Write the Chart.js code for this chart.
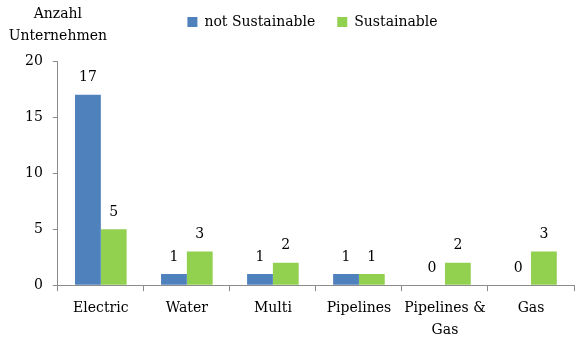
<!DOCTYPE html>
<html>
<head>
<meta charset="utf-8">
<script src="https://cdn.jsdelivr.net/npm/chart.js@4/dist/chart.umd.min.js"></script>
<style>
  html, body { margin: 0; padding: 0; background: #fff; }
  #wrap { width: 580px; height: 337px; }
</style>
</head>
<body>
<div id="wrap"><canvas id="bar-canvas" width="580" height="337"></canvas></div>
<script>
var categories = ['Electric', 'Water', 'Multi', 'Pipelines', ['Pipelines &', 'Gas'], 'Gas'];
var notSustainable = [17, 1, 1, 1, 0, 0];
var sustainable = [5, 3, 2, 1, 2, 3];
var yTicks = [0, 5, 10, 15, 20];
var yTitle = ['Anzahl', 'Unternehmen'];

var fontFamily = "'DejaVu Serif', serif";
var axisGray = '#8c8c8c';

// value labels above each bar
var valueLabels = {
    id: 'valueLabels',
    afterDatasetsDraw: function (chart) {
        var ctx = chart.ctx;
        ctx.save();
        ctx.font = '14px ' + fontFamily;
        ctx.fillStyle = '#000';
        ctx.textAlign = 'center';
        ctx.textBaseline = 'bottom';
        chart.data.datasets.forEach(function (ds, i) {
            chart.getDatasetMeta(i).data.forEach(function (bar, j) {
                ctx.fillText(ds.data[j], bar.x, bar.y - 10);
            });
        });
        ctx.restore();
    }
};

// axis title sitting above the y axis
var yAxisTitle = {
    id: 'yAxisTitle',
    afterDraw: function (chart) {
        var ctx = chart.ctx;
        var x = chart.scales.y.right;
        ctx.save();
        ctx.font = '14px ' + fontFamily;
        ctx.fillStyle = '#000';
        ctx.textAlign = 'center';
        ctx.textBaseline = 'middle';
        ctx.fillText(yTitle[0], x, 14);
        ctx.fillText(yTitle[1], x, 36);
        ctx.restore();
    }
};

// extra room below the legend, and legend nudged over the plot area
var legendGap = {
    id: 'legendGap',
    beforeInit: function (chart) {
        var legend = chart.legend;
        var fit = legend.fit;
        var draw = legend.draw;
        legend.fit = function () {
            fit.call(this);
            this.height += 22;
        };
        legend.draw = function () {
            chart.ctx.save();
            chart.ctx.translate(18, 0);
            draw.apply(this, arguments);
            chart.ctx.restore();
        };
    }
};

new Chart('bar-canvas', {
    type: 'bar',
    data: {
        labels: categories,
        datasets: [{
            label: 'not Sustainable',
            data: notSustainable,
            backgroundColor: '#4F81BD'
        }, {
            label: 'Sustainable',
            data: sustainable,
            backgroundColor: '#92D050'
        }]
    },
    options: {
        responsive: false,
        animation: false,
        layout: {
            padding: { top: -7, right: 6, left: 15, bottom: -11 }
        },
        datasets: {
            bar: {
                categoryPercentage: 0.6,
                barPercentage: 1.0
            }
        },
        plugins: {
            legend: {
                position: 'top',
                labels: {
                    font: { family: fontFamily, size: 14 },
                    color: '#000',
                    boxWidth: 10,
                    boxHeight: 10,
                    padding: 22
                }
            },
            tooltip: { enabled: false }
        },
        scales: {
            x: {
                grid: {
                    display: true,
                    drawOnChartArea: false,
                    drawTicks: true,
                    tickLength: 6,
                    color: axisGray,
                    offset: true
                },
                border: { color: axisGray },
                ticks: {
                    font: { family: fontFamily, size: 14, lineHeight: 1.6 },
                    color: '#000',
                    maxRotation: 0,
                    autoSkip: false,
                    padding: 6
                }
            },
            y: {
                min: 0,
                max: 20,
                afterBuildTicks: function (axis) {
                    axis.ticks = yTicks.map(function (v) { return { value: v }; });
                },
                grid: {
                    display: true,
                    drawOnChartArea: false,
                    tickLength: 5,
                    color: axisGray
                },
                border: { color: axisGray },
                ticks: {
                    font: { family: fontFamily, size: 14 },
                    color: '#000',
                    padding: 10
                }
            }
        }
    },
    plugins: [valueLabels, yAxisTitle, legendGap]
});
</script>
</body>
</html>
